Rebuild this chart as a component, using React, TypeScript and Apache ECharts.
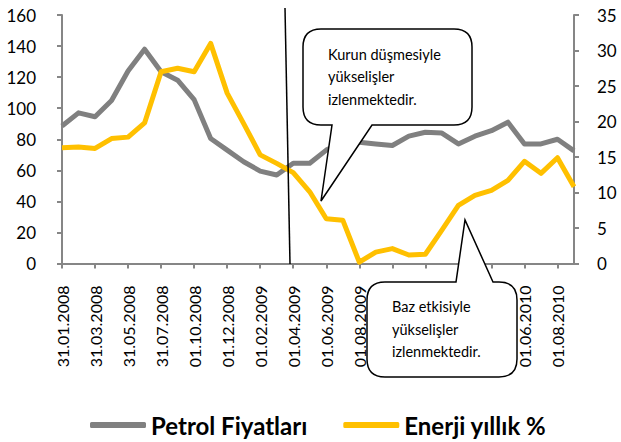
import React, { useEffect, useRef } from "react";
import * as echarts from "echarts";

const dates = [
  "31.01.2008", "29.02.2008", "31.03.2008", "30.04.2008", "31.05.2008", "30.06.2008",
  "31.07.2008", "31.08.2008", "01.10.2008", "01.11.2008", "01.12.2008", "01.01.2009",
  "01.02.2009", "01.03.2009", "01.04.2009", "01.05.2009", "01.06.2009", "01.07.2009",
  "01.08.2009", "01.09.2009", "01.10.2009", "01.11.2009", "01.12.2009", "01.01.2010",
  "01.02.2010", "01.03.2010", "01.04.2010", "01.05.2010", "01.06.2010", "01.07.2010",
  "01.08.2010", "01.09.2010",
];

const petrol = [
  88.5, 97, 94.5, 105, 124, 138, 123.5, 118, 105.5, 80.5, 73, 65.5, 59.5, 57, 64.5, 64.5,
  73, 78, 78, 77, 76, 82, 84.5, 84, 77, 82, 85.5, 91, 77, 77, 80, 72.5,
];

const enerji = [
  16.3, 16.4, 16.2, 17.6, 17.8, 19.8, 27, 27.5, 27, 31, 24, 19.7, 15.3, 14.1, 12.8, 10.1,
  6.3, 6.1, 0.2, 1.6, 2.1, 1.2, 1.3, 4.7, 8.2, 9.6, 10.3, 11.7, 14.4, 12.7, 14.9, 10.8,
];

const leftTicks = { min: 0, max: 160, interval: 20 };
const rightTicks = { min: 0, max: 35, interval: 5 };

const seriesNames = ["Petrol Fiyatları", "Enerji yıllık %"];
const note1 = ["Kurun düşmesiyle", "yükselişler", "izlenmektedir."];
const note2 = ["Baz etkisiyle", "yükselişler", "izlenmektedir."];

const FONT = "Lato";

echarts.graphic.registerShape(
  "callout1",
  echarts.graphic.extendPath(
    "M 321 29 L 454 29 Q 472 29 472 47 L 472 107 Q 472 125 454 125 L 372 125 L 321 201 L 332 125 L 321 125 Q 303 125 303 107 L 303 47 Q 303 29 321 29 Z",
    {}
  )
);
echarts.graphic.registerShape(
  "callout2",
  echarts.graphic.extendPath(
    "M 385 282 L 456 282 L 465 220 L 493 282 L 499 282 Q 517 282 517 300 L 517 359 Q 517 377 499 377 L 385 377 Q 367 377 367 359 L 367 300 Q 367 282 385 282 Z",
    {}
  )
);

export default function App() {
  const ref = useRef<HTMLDivElement>(null);

  useEffect(() => {
    document.body.style.margin = "0";
    const chart = echarts.init(ref.current!, null, { renderer: "svg" });
    const axisColor = "#868686";

    const textEls = (lines: string[], x: number, y0: number) =>
      lines.map((t, i) => ({
        type: "text",
        x,
        y: y0 + i * 22.5,
        z: 101,
        style: {
          text: t,
          fontFamily: FONT,
          fontSize: 14.5,
          fill: "#000",
          textVerticalAlign: "middle",
          verticalAlign: "middle",
        },
      }));

    chart.setOption({
      animation: false,
      textStyle: { fontFamily: FONT },
      grid: { left: 62, right: 47, top: 15, bottom: 178.5, containLabel: false },
      legend: {
        data: seriesNames,
        left: 85,
        top: 408,
        icon: "roundRect",
        itemWidth: 56,
        itemHeight: 6,
        itemGap: 36,
        textStyle: { fontFamily: FONT, fontSize: 24, fontWeight: "bold", color: "#000" },
      },
      xAxis: {
        type: "category",
        data: dates,
        boundaryGap: false,
        max: 31.3,
        axisLine: { lineStyle: { color: axisColor, width: 2 } },
        axisTick: { interval: 1, length: 5, lineStyle: { color: axisColor, width: 2 } },
        axisLabel: {
          interval: 1,
          rotate: 90,
          margin: 22,
          fontSize: 16,
          color: "#000",
          fontFamily: FONT,
        },
        splitLine: { show: false },
      },
      yAxis: [
        {
          type: "value",
          ...leftTicks,
          position: "left",
          axisLine: { show: true, lineStyle: { color: axisColor, width: 2 } },
          axisTick: { show: true, length: 5, lineStyle: { color: axisColor, width: 2 } },
          axisLabel: { margin: 26, fontSize: 17, color: "#000", fontFamily: FONT },
          splitLine: { show: false },
        },
        {
          type: "value",
          ...rightTicks,
          position: "right",
          axisLine: { show: true, lineStyle: { color: axisColor, width: 2 } },
          axisTick: { show: true, length: 5, lineStyle: { color: axisColor, width: 2 } },
          axisLabel: { margin: 23, fontSize: 17, color: "#000", fontFamily: FONT },
          splitLine: { show: false },
        },
      ],
      series: [
        {
          name: seriesNames[0],
          type: "line",
          yAxisIndex: 0,
          data: petrol,
          color: "#808080",
          symbol: "none",
          lineStyle: { width: 5, color: "#808080", join: "round" },
        },
        {
          name: seriesNames[1],
          type: "line",
          yAxisIndex: 1,
          data: enerji,
          color: "#FFC000",
          symbol: "none",
          lineStyle: { width: 5, color: "#FFC000", join: "round" },
        },
      ],
      graphic: [
        {
          type: "line",
          z: 100,
          shape: { x1: 285, y1: 8, x2: 290, y2: 264 },
          style: { stroke: "#000", lineWidth: 1.5 },
        },
        {
          type: "callout1",
          x: 0,
          y: 0,
          z: 100,
          style: { fill: "#fff", stroke: "#000", lineWidth: 1.5 },
        },
        {
          type: "callout2",
          x: 0,
          y: 0,
          z: 100,
          style: { fill: "#fff", stroke: "#000", lineWidth: 1.5 },
        },
        ...textEls(note1, 328, 54),
        ...textEls(note2, 392, 306.5),
      ],
    });

    return () => chart.dispose();
  }, []);

  return <div ref={ref} style={{ width: 621, height: 442 }} />;
}
